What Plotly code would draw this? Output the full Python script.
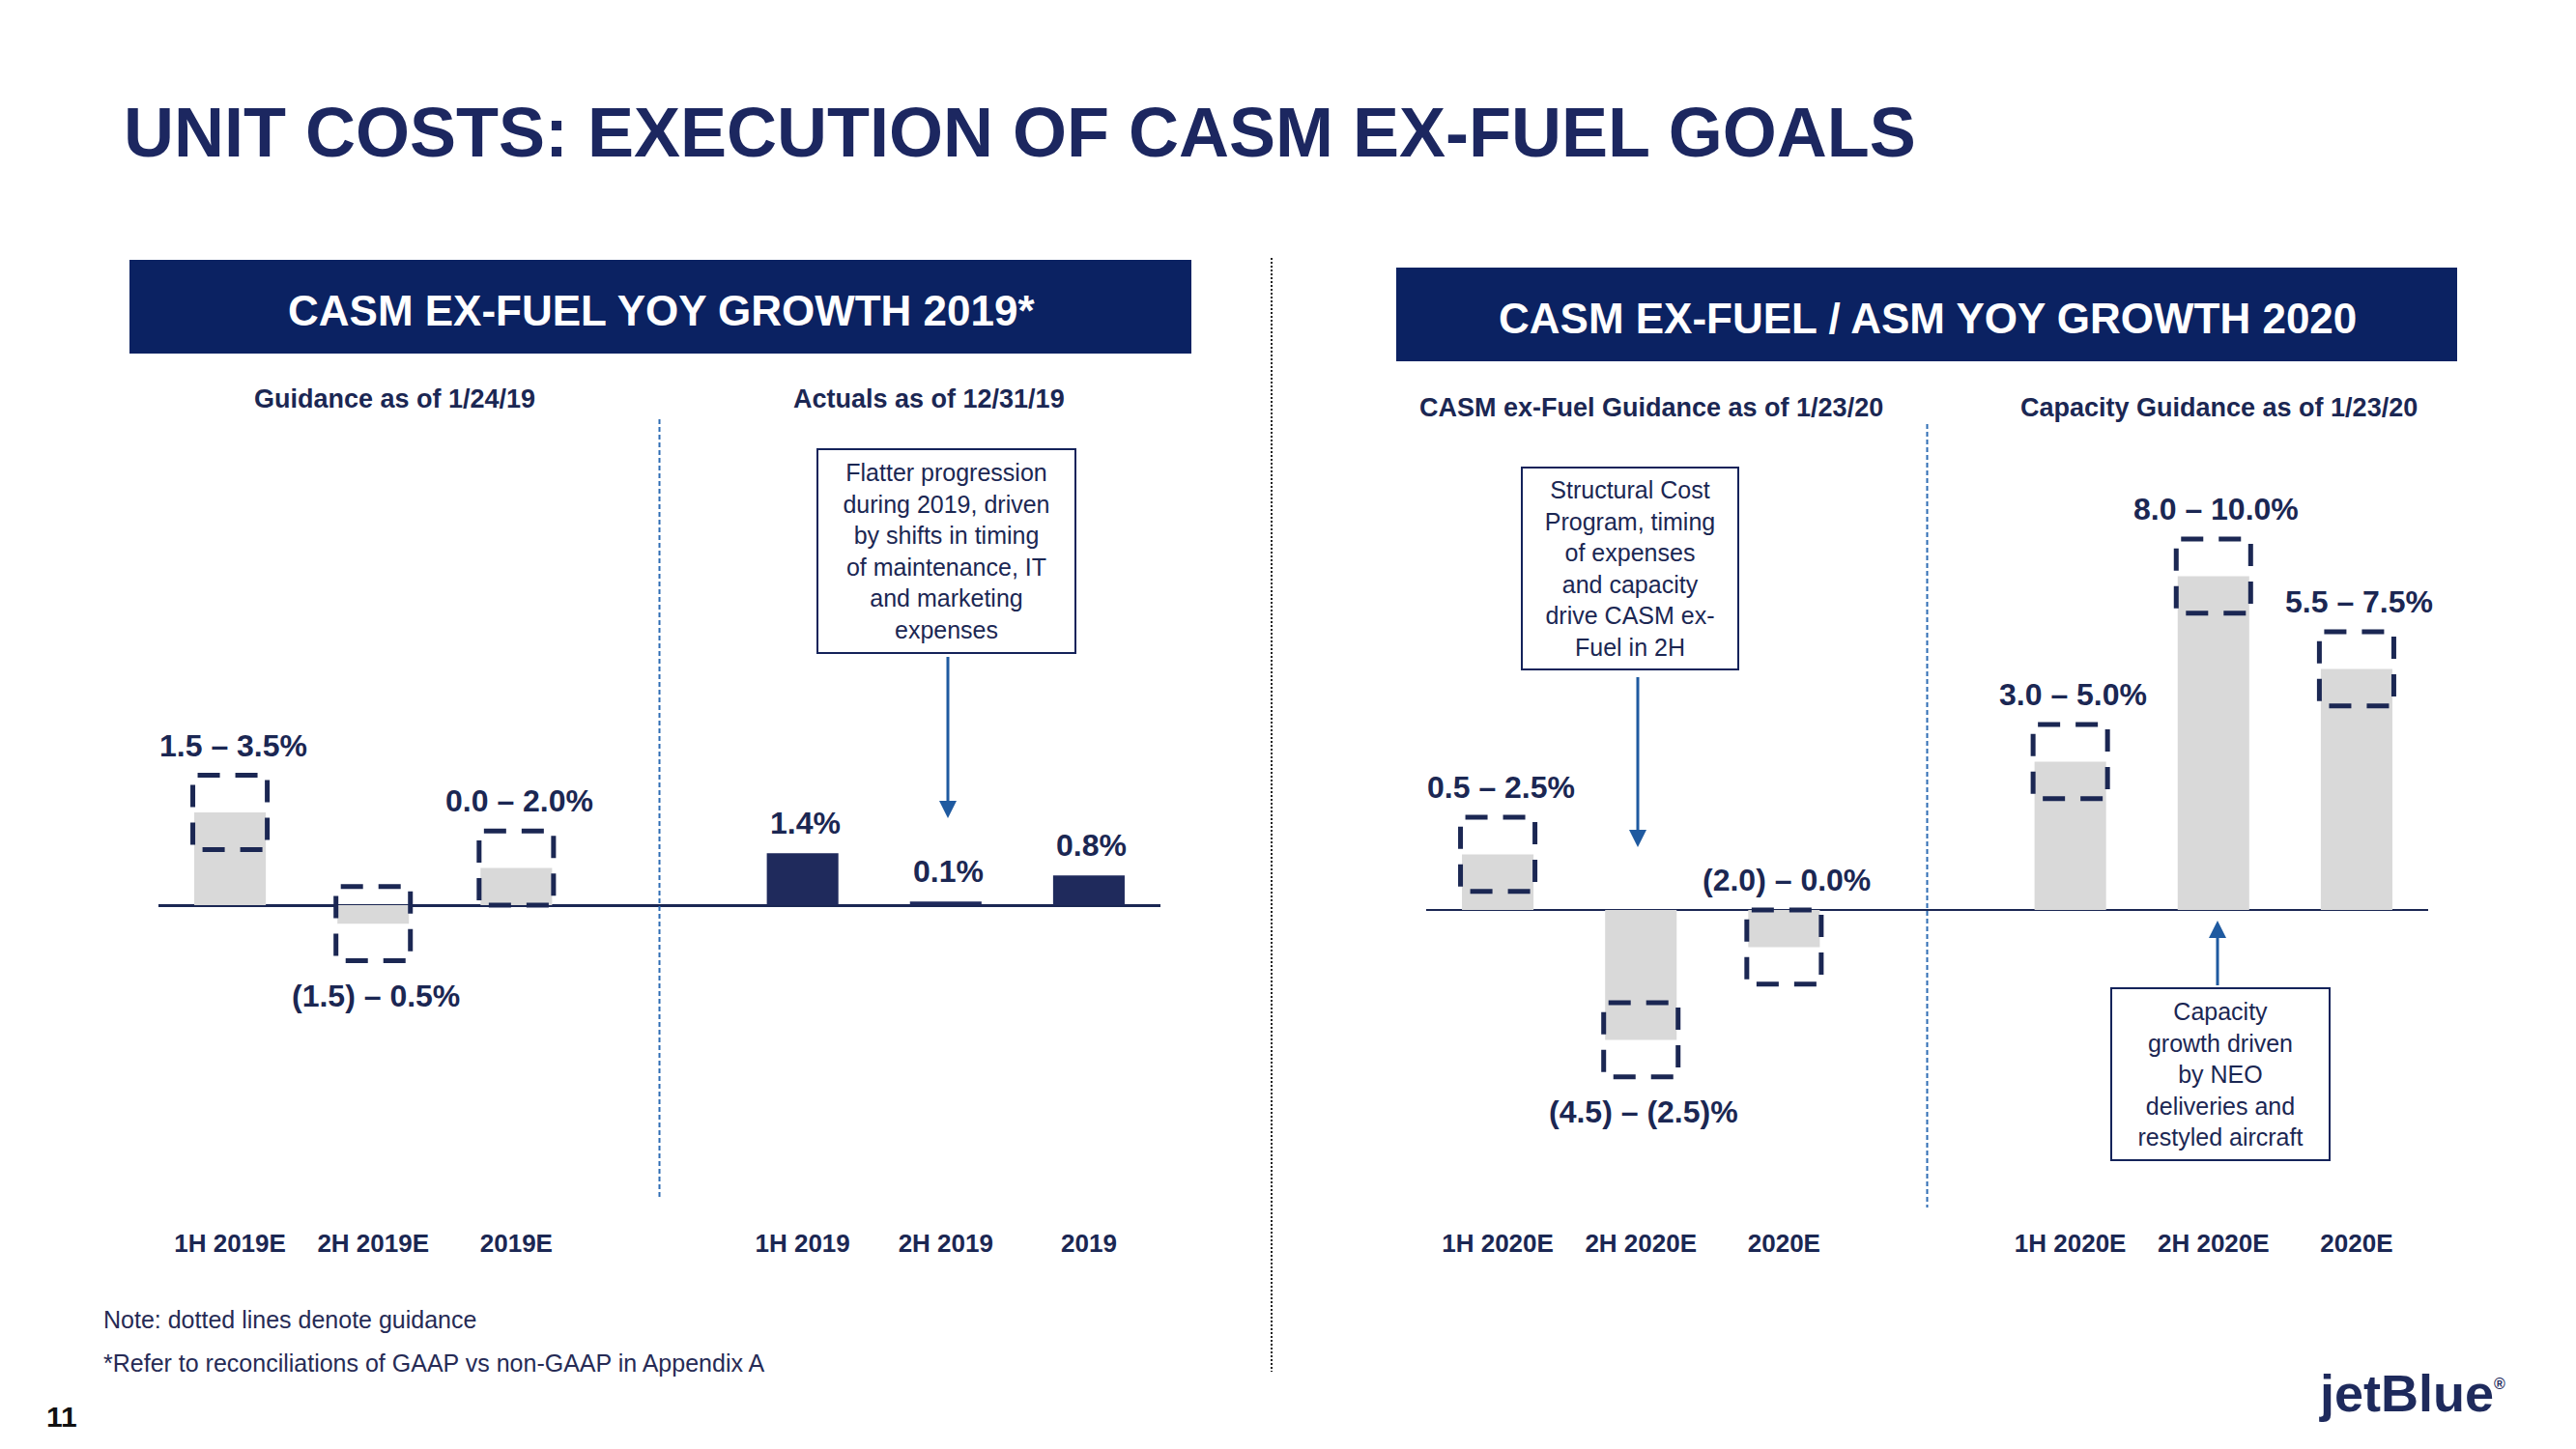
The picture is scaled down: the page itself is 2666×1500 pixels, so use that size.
import plotly.graph_objects as go

# page offset (browser body margin) compensation
OFF = 8
W, H = 2666, 1500
FW, FH = W - 2 * OFF, H - 2 * OFF

# ---------------- data ----------------
left_guid_cats = ["1H 2019E", "2H 2019E", "2019E"]
left_guid_mid = [2.5, -0.5, 1.0]
left_guid_low = [1.5, -1.5, 0.0]
left_guid_high = [3.5, 0.5, 2.0]
left_guid_labels = ["1.5 – 3.5%", "(1.5) – 0.5%", "0.0 – 2.0%"]
left_guid_label_side = ["above", "below", "above"]

left_act_cats = ["1H 2019", "2H 2019", "2019"]
left_act_vals = [1.4, 0.1, 0.8]
left_act_labels = ["1.4%", "0.1%", "0.8%"]

right_casm_cats = ["1H 2020E", "2H 2020E", "2020E"]
right_casm_mid = [1.5, -3.5, -1.0]
right_casm_low = [0.5, -4.5, -2.0]
right_casm_high = [2.5, -2.5, 0.0]
right_casm_labels = ["0.5 – 2.5%", "(4.5) – (2.5)%", "(2.0) – 0.0%"]
right_casm_label_side = ["above", "below", "above"]

right_cap_cats = ["1H 2020E", "2H 2020E", "2020E"]
right_cap_mid = [4.0, 9.0, 6.5]
right_cap_low = [3.0, 8.0, 5.5]
right_cap_high = [5.0, 10.0, 7.5]
right_cap_labels = ["3.0 – 5.0%", "8.0 – 10.0%", "5.5 – 7.5%"]

# ---------------- styles ----------------
FONT = "Liberation Sans, Arial, sans-serif"
NAVY = "#1B2753"
TITLE_C = "#1C2760"
BANNER = "#0B2262"
GRAY = "#D9D9D9"
BAR_NAVY = "#1F2A5C"
ARROW = "#1F5AA0"
DIVIDER = "#2E6DB4"
BOX_DASH = "0px,5px,23px,16px,23px,80px"

pos_a = [0, 1, 2]
pos_b = [4, 5, 6]


def px(x):
    return (x - OFF) / FW


def py(y):
    return 1 - (y - OFF) / FH


fig = go.Figure()

# bars
fig.add_trace(go.Bar(x=pos_a, y=left_guid_mid, width=0.5, marker=dict(color=GRAY, line_width=0),
                     xaxis="x", yaxis="y", hoverinfo="skip"))
fig.add_trace(go.Bar(x=pos_b, y=left_act_vals, width=0.5, marker=dict(color=BAR_NAVY, line_width=0),
                     xaxis="x", yaxis="y", hoverinfo="skip"))
fig.add_trace(go.Bar(x=pos_a, y=right_casm_mid, width=0.5, marker=dict(color=GRAY, line_width=0),
                     xaxis="x2", yaxis="y2", hoverinfo="skip"))
fig.add_trace(go.Bar(x=pos_b, y=right_cap_mid, width=0.5, marker=dict(color=GRAY, line_width=0),
                     xaxis="x2", yaxis="y2", hoverinfo="skip"))

shapes = []
annotations = []


def add_box(xc, lo, hi, xref, yref):
    hw = 0.26
    edges = [
        ((xc - hw, hi), (xc + hw, hi)),
        ((xc + hw, hi), (xc + hw, lo)),
        ((xc + hw, lo), (xc - hw, lo)),
        ((xc - hw, lo), (xc - hw, hi)),
    ]
    for (x0, y0), (x1, y1) in edges:
        shapes.append(dict(type="line", xref=xref, yref=yref, x0=x0, y0=y0, x1=x1, y1=y1,
                           line=dict(color=NAVY, width=5, dash=BOX_DASH), layer="above"))


def add_label(x, y, text, xref, yref, side):
    annotations.append(dict(x=x, y=y, xref=xref, yref=yref, text=text, showarrow=False,
                            xanchor="center", yanchor="middle",
                            yshift=31 if side == "above" else -36, xshift=3,
                            font=dict(family=FONT, size=32, color=NAVY, weight="bold")))


for i, xc in enumerate(pos_a):
    add_box(xc, left_guid_low[i], left_guid_high[i], "x", "y")
    side = left_guid_label_side[i]
    add_label(xc, left_guid_high[i] if side == "above" else left_guid_low[i],
              left_guid_labels[i], "x", "y", side)
    add_box(xc, right_casm_low[i], right_casm_high[i], "x2", "y2")
    side = right_casm_label_side[i]
    add_label(xc, right_casm_high[i] if side == "above" else right_casm_low[i],
              right_casm_labels[i], "x2", "y2", side)

for i, xc in enumerate(pos_b):
    add_label(xc, left_act_vals[i], left_act_labels[i], "x", "y", "above")
    add_box(xc, right_cap_low[i], right_cap_high[i], "x2", "y2")
    add_label(xc, right_cap_high[i], right_cap_labels[i], "x2", "y2", "above")

# dividers inside charts
shapes.append(dict(type="line", xref="x", yref="paper", x0=3, x1=3, y0=py(434), y1=py(1241),
                   line=dict(color=DIVIDER, width=2, dash="5px,3px")))
shapes.append(dict(type="line", xref="x2", yref="paper", x0=3, x1=3, y0=py(439), y1=py(1250),
                   line=dict(color=DIVIDER, width=2, dash="5px,3px")))
# page separator
shapes.append(dict(type="line", xref="paper", yref="paper", x0=px(1316), x1=px(1316),
                   y0=py(267), y1=py(1420), line=dict(color="#222222", width=2, dash="2px,2px")))
# banners
shapes.append(dict(type="rect", xref="paper", yref="paper", x0=px(134), x1=px(1233),
                   y0=py(366), y1=py(269), fillcolor=BANNER, line=dict(width=0), layer="below"))
shapes.append(dict(type="rect", xref="paper", yref="paper", x0=px(1445), x1=px(2543),
                   y0=py(374), y1=py(277), fillcolor=BANNER, line=dict(width=0), layer="below"))


def text_ann(x, y, text, size, color, weight="normal", xanchor="center", family=FONT):
    annotations.append(dict(x=px(x), y=py(y), xref="paper", yref="paper", text=text,
                            showarrow=False, xanchor=xanchor, yanchor="middle",
                            font=dict(family=family, size=size, color=color, weight=weight)))


# title & headers
text_ann(126, 137, "UNIT COSTS: EXECUTION OF CASM EX-FUEL GOALS", 72, TITLE_C, "bold", "left")
text_ann(684, 321, "CASM EX-FUEL YOY GROWTH 2019*", 44, "white", "bold")
text_ann(1995, 329, "CASM EX-FUEL / ASM YOY GROWTH 2020", 44, "white", "bold")
text_ann(408, 413, "Guidance as of 1/24/19", 27, NAVY, "bold")
text_ann(961, 413, "Actuals as of 12/31/19", 27, NAVY, "bold")
text_ann(1709, 422, "CASM ex-Fuel Guidance as of 1/23/20", 27, NAVY, "bold")
text_ann(2296, 422, "Capacity Guidance as of 1/23/20", 27, NAVY, "bold")

# footnotes
text_ann(105, 1366, "Note: dotted lines denote guidance", 25, "#262B55", "normal", "left")
text_ann(105, 1411, "*Refer to reconciliations of GAAP vs non-GAAP in Appendix A", 25, "#262B55",
         "normal", "left")
text_ann(46, 1466, "11", 30, "#111111", "bold", "left")
text_ann(2398, 1442, "jetBlue<sup><span style='font-size:16px'>®</span></sup>", 54, "#1E2A5C",
         "bold", "left")


def callout(cx, cy, w, h, lines):
    annotations.append(dict(x=px(cx), y=py(cy), xref="paper", yref="paper",
                            text="<br>".join(lines), showarrow=False,
                            xanchor="center", yanchor="middle", align="center", valign="middle",
                            width=w, height=h, borderwidth=2, bordercolor="#14235A", borderpad=0,
                            bgcolor="white",
                            font=dict(family=FONT, size=25, color=NAVY)))


def arrow(x, y, ay):
    annotations.append(dict(x=px(x), y=py(y), xref="paper", yref="paper", text=" ",
                            showarrow=True, ax=0, ay=ay, arrowhead=2, arrowsize=1.2,
                            arrowwidth=3, arrowcolor=ARROW, standoff=0,
                            font=dict(size=2)))


callout(979.5, 570.5, 265, 209, ["Flatter progression", "during 2019, driven", "by shifts in timing",
                                 "of maintenance, IT", "and marketing", "expenses"])
arrow(981, 847, -170)
callout(1687, 588.5, 222, 207, ["Structural Cost", "Program, timing", "of expenses",
                                "and capacity", "drive CASM ex-", "Fuel in 2H"])
arrow(1695, 877, -179)
callout(2298, 1112, 224, 176, ["Capacity", "growth driven", "by NEO", "deliveries and",
                               "restyled aircraft"])
arrow(2295, 953, 70)

SCALE = 38.4
DOM_TOP, DOM_BOT = 400, 1269
Z_LEFT, Z_RIGHT = 937, 942

tickfont = dict(family=FONT, size=26, color=NAVY, weight="bold")

fig.update_layout(
    width=FW, height=FH, margin=dict(l=0, r=0, t=0, b=0),
    paper_bgcolor="white", plot_bgcolor="white", showlegend=False,
    shapes=shapes, annotations=annotations,
    xaxis=dict(domain=[px(164), px(1201)], range=[-0.5, 6.5], anchor="y",
               tickvals=pos_a + pos_b, ticktext=left_guid_cats + left_act_cats,
               tickfont=tickfont, ticks="", showgrid=False, zeroline=False, showline=False),
    yaxis=dict(domain=[py(DOM_BOT), py(DOM_TOP)],
               range=[-(DOM_BOT - Z_LEFT) / SCALE, (Z_LEFT - DOM_TOP) / SCALE], anchor="x",
               showticklabels=False, showgrid=False, zeroline=True, zerolinecolor=NAVY,
               zerolinewidth=3, showline=False),
    xaxis2=dict(domain=[px(1476), px(2513)], range=[-0.5, 6.5], anchor="y2",
                tickvals=pos_a + pos_b, ticktext=right_casm_cats + right_cap_cats,
                tickfont=tickfont, ticks="", showgrid=False, zeroline=False, showline=False),
    yaxis2=dict(domain=[py(DOM_BOT), py(DOM_TOP)],
                range=[-(DOM_BOT - Z_RIGHT) / SCALE, (Z_RIGHT - DOM_TOP) / SCALE], anchor="x2",
                showticklabels=False, showgrid=False, zeroline=True, zerolinecolor=NAVY,
                zerolinewidth=2, showline=False),
)

fig.write_html("out.html")
